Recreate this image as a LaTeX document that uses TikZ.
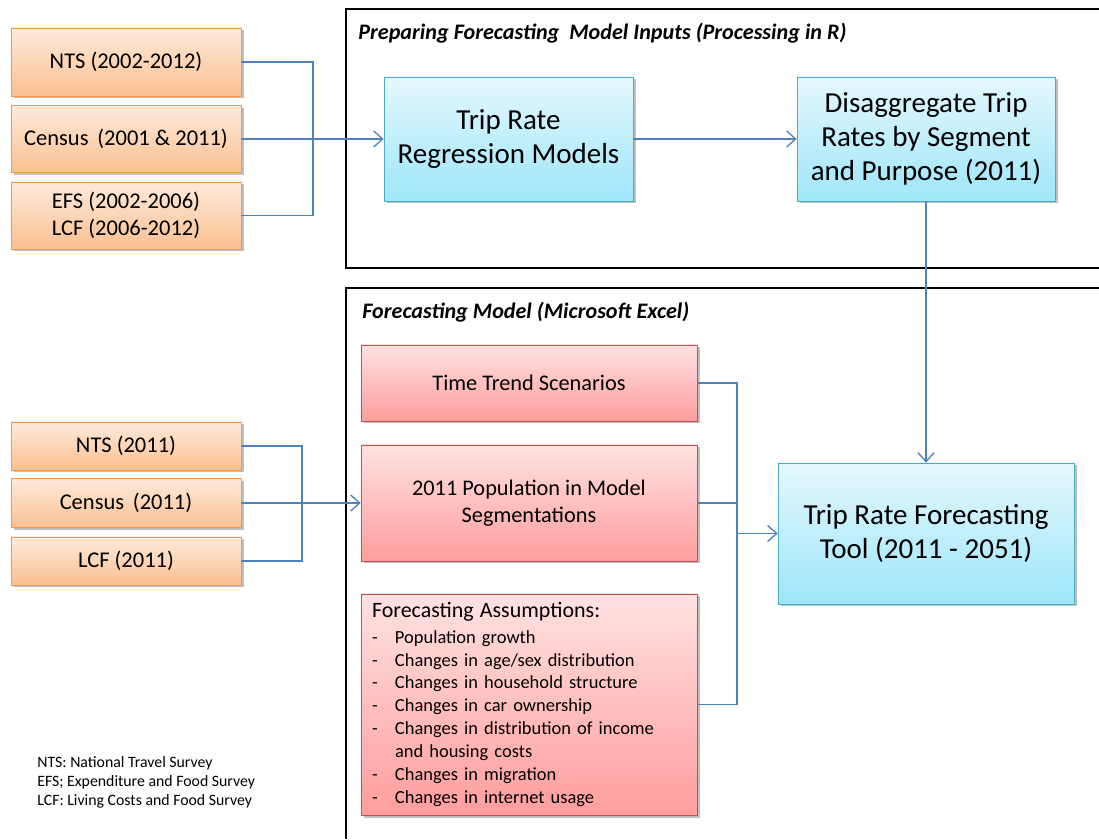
\documentclass[tikz,border=0pt]{standalone}
\usepackage{fontspec}
\setmainfont{Carlito}
\usetikzlibrary{arrows.meta,shadows}

\definecolor{srcedge}{HTML}{F79646}
\definecolor{srctop}{HTML}{FEEADB}
\definecolor{srcbot}{HTML}{FAC090}
\definecolor{procedge}{HTML}{4BACC6}
\definecolor{proctop}{HTML}{E4F8FD}
\definecolor{procbot}{HTML}{9EE6FA}
\definecolor{xledge}{HTML}{C0504D}
\definecolor{xltop}{HTML}{FFE2E2}
\definecolor{xlbot}{HTML}{FF9D9D}
\definecolor{linkblue}{HTML}{4F81BD}

\newcommand{\itm}[1]{\makebox[0.46cm][l]{-}#1}

\begin{document}
\begin{tikzpicture}[
  shadowed/.style={drop shadow={shadow xshift=0.05cm, shadow yshift=-0.05cm, opacity=0.25, fill=black}},
  src/.style={draw=srcedge, top color=srctop, bottom color=srcbot, shadowed, align=center, minimum width=4.6cm, font=\fontsize{12.8}{15.3}\selectfont},
  proc/.style={draw=procedge, top color=proctop, bottom color=procbot, shadowed, align=center, minimum height=2.48cm, font=\fontsize{16.5}{19.5}\selectfont},
  excel/.style={draw=xledge, top color=xltop, bottom color=xlbot, shadowed, minimum width=6.72cm, font=\fontsize{12.7}{15.3}\selectfont},
  link/.style={draw=linkblue, line width=0.75pt},
  arrow/.style={link, -{Straight Barb[length=1.8mm,width=3.2mm]}},
  frame/.style={draw=black, line width=1.6pt},
  title/.style={font=\bfseries\itshape\fontsize{12.6}{14}\selectfont, inner sep=0pt, anchor=west}
]
\useasboundingbox (0,0) rectangle (21.98,16.78);

% data sources for the regression step
\node[src, minimum height=1.36cm] (nts1) at (2.52,15.54) {NTS (2002-2012)};
\node[src, minimum height=1.34cm] (cen1) at (2.52,14.0) {Census\, (2001 \& 2011)};
\node[src, minimum height=1.34cm] (efs) at (2.52,12.47) {EFS (2002-2006)\\LCF (2006-2012)};

% R processing
\draw[frame] (21.98,16.6) -- (6.92,16.6) -- (6.92,11.42) -- (21.98,11.42);
\node[title] (ttlr) at (7.16,16.12) {Preparing Forecasting\ \ Model Inputs (Processing in R)};
\node[proc, minimum width=4.98cm] (reg) at (10.17,14.0) {Trip Rate\\Regression Models};
\node[proc, minimum width=5.16cm] (dis) at (18.52,14.0) {Disaggregate Trip\\Rates by Segment\\and Purpose (2011)};

% data sources for the base year
\node[src, minimum height=0.96cm] (nts2) at (2.52,7.86) {NTS (2011)};
\node[src, minimum height=0.98cm] (cen2) at (2.52,6.72) {Census\, (2011)};
\node[src, minimum height=0.96cm] (lcf2) at (2.52,5.56) {LCF (2011)};

% Excel model
\draw[frame] (21.98,11.02) -- (6.92,11.02) -- (6.92,0);
\node[title] (ttlx) at (7.24,10.54) {Forecasting Model (Microsoft Excel)};
\node[excel, minimum height=1.52cm] (trend) at (10.58,9.12) {Time Trend Scenarios};
\node[excel, minimum height=2.32cm, align=center] (pop) at (10.58,6.72) {2011 Population in Model\\Segmentations};
\node[excel, minimum height=4.42cm, inner xsep=0.22cm, text width=6.28cm, align=left, font=\fontsize{10.5}{13}\selectfont] (assum) at (10.58,2.69) {{\fontsize{12.5}{13}\selectfont Forecasting Assumptions:}\\[1.5pt]
  \itm{Population growth}\\
  \itm{Changes in age/sex distribution}\\
  \itm{Changes in household structure}\\
  \itm{Changes in car ownership}\\
  \itm{Changes in distribution of income}\\
  \hspace*{0.46cm}and housing costs\\
  \itm{Changes in migration}\\
  \itm{Changes in internet usage}};
\node[proc, minimum width=5.92cm, minimum height=2.82cm] (tool) at (18.52,6.11) {Trip Rate Forecasting\\Tool (2011 - 2051)};

\node[anchor=west, align=left, inner sep=0pt, font=\fontsize{9}{10.8}\selectfont] (abbr) at (0.74,1.14) {NTS: National Travel Survey\\EFS; Expenditure and Food Survey\\LCF: Living Costs and Food Survey};

% junctions
\coordinate (jtop) at (6.26,14.0);
\coordinate (jbot) at (6.04,6.72);
\coordinate (jright) at (14.74,6.11);

\draw[link] (nts1.east) -| (jtop);
\draw[link] (efs.east) -| (jtop);
\draw[arrow] (cen1.east) -- (reg.west);
\draw[arrow] (reg) -- (dis);
\draw[arrow] (dis) -- (tool);

\draw[link] (nts2.east) -| (jbot);
\draw[link] (lcf2.east) -| (jbot);
\draw[arrow] (cen2.east) -- (pop.west);

\draw[link] (trend.east) -| (jright);
\draw[link] (pop.east) -| (jright);
\draw[link] (assum.east) -| (jright);
\draw[arrow] (jright) -- (tool.west);
\end{tikzpicture}
\end{document}
